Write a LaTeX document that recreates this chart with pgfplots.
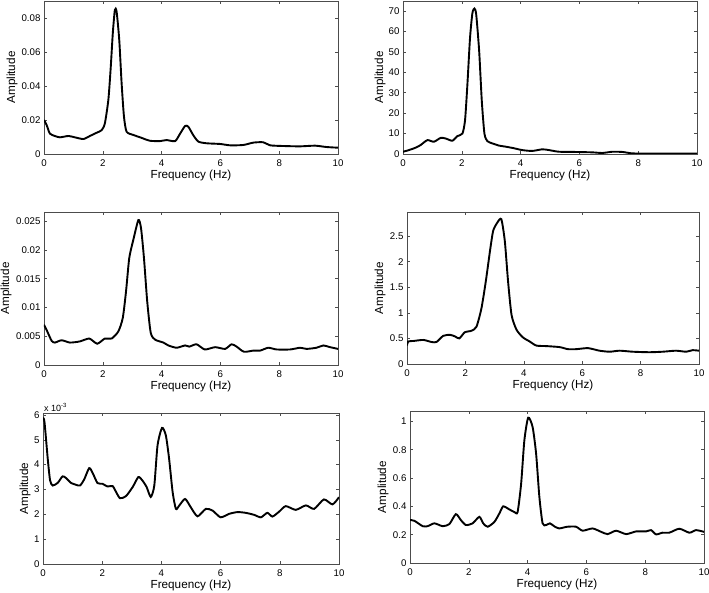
\documentclass[border=0pt]{standalone}
\usepackage{fontspec}
\setmainfont{Liberation Sans}
\usepackage{pgfplots}
\pgfplotsset{compat=1.18}

\pgfplotsset{
  spec/.style={
    scale only axis, width=294pt, height=153pt, anchor=north west,
    xmin=0, xmax=10, xtick={0,2,...,10}, ymin=0,
    tick align=inside, major tick length=3pt,
    axis line style={black!70, line width=0.6pt},
    every tick/.style={black!70, line width=0.6pt},
    tick label style={font=\fontsize{9.7}{10}\selectfont},
    label style={font=\fontsize{11.7}{12}\selectfont},
    /pgf/number format/assume math mode=true,
    xticklabel style={yshift=-2pt},
    xlabel={Frequency (Hz)}, ylabel={Amplitude},
    xlabel style={at={(axis description cs:0.5,0)}, anchor=center, yshift=-21pt},
    scaled y ticks=false,
    clip mode=individual,
  },
  % ylabel is rotated by 90, so its yshift moves it to the left
  ylab/.style={ylabel style={at={(axis description cs:0,0.5)}, anchor=center, yshift=#1}},
  curve/.style={black, line width=1.9pt, smooth, tension=0.4},
}

\begin{document}
\begin{tikzpicture}
\useasboundingbox (0,0) rectangle (709pt,592pt);

% top left
\begin{axis}[spec, at={(44pt,591pt)}, ymax=0.09,
    ytick={0,0.02,0.04,0.06,0.08}, yticklabels={0,0.02,0.04,0.06,0.08},
    ylab=32pt]
\addplot[curve] coordinates {
(0,0.020)(0.09,0.017)(0.2,0.012)(0.37,0.0106)(0.54,0.0098)(0.83,0.0106)
(1.05,0.0098)(1.34,0.0088)(1.56,0.0106)(1.79,0.0125)(1.96,0.014)(2.07,0.018)
(2.19,0.032)(2.27,0.051)(2.34,0.071)(2.41,0.0847)(2.47,0.0837)(2.56,0.067)
(2.64,0.0416)(2.72,0.022)(2.81,0.0131)(3.04,0.0112)(3.27,0.0098)(3.6,0.0078)
(3.95,0.0076)(4.17,0.0082)(4.46,0.0076)(4.63,0.012)(4.8,0.0165)(4.91,0.016)
(5.08,0.011)(5.25,0.0073)(5.53,0.0063)(5.99,0.0059)(6.33,0.0051)(6.78,0.0053)
(7.12,0.0067)(7.46,0.0069)(7.69,0.0051)(8.14,0.0047)(8.71,0.0045)(9.22,0.0049)
(9.61,0.0041)(10,0.0037)
};
\end{axis}

% top right
\begin{axis}[spec, at={(403pt,591pt)}, ymax=75,
    ytick={0,10,...,70}, ylab=23pt]
\addplot[curve] coordinates {
(0,1.1)(0.2,1.9)(0.43,3.1)(0.6,4.4)(0.83,6.8)(1.05,6.0)(1.28,7.9)(1.45,7.6)
(1.68,6.5)(1.85,8.8)(2.02,10.0)(2.11,16.5)(2.19,34)(2.28,57)(2.36,69)(2.43,71.3)
(2.49,68.4)(2.59,50.6)(2.68,26)(2.77,10)(2.87,6.3)(3.04,5.2)(3.27,4.1)(3.49,3.6)
(3.78,2.8)(4.06,1.9)(4.4,1.5)(4.74,2.3)(4.97,1.9)(5.31,1.1)(5.87,1.0)(6.44,0.8)
(6.78,0.5)(7.12,1.1)(7.46,1.0)(7.8,0.3)(8.37,0.2)(8.93,0.2)(10,0.2)
};
\end{axis}

% middle left
\begin{axis}[spec, at={(44pt,380pt)}, ymax=0.0266,
    ytick={0,0.005,0.01,0.015,0.02,0.025}, yticklabels={0,0.005,0.01,0.015,0.02,0.025},
    ylab=38pt]
\addplot[curve] coordinates {
(0,0.0070)(0.11,0.00585)(0.26,0.0042)(0.37,0.0039)(0.6,0.0043)(0.88,0.0039)
(1.22,0.0041)(1.54,0.0046)(1.81,0.0037)(2.07,0.0046)(2.3,0.0046)(2.53,0.00585)
(2.68,0.0082)(2.79,0.0128)(2.9,0.0186)(3.04,0.0218)(3.21,0.0252)(3.3,0.0238)
(3.4,0.0186)(3.51,0.0111)(3.63,0.0056)(3.78,0.0044)(4.06,0.0039)(4.23,0.0034)
(4.51,0.0030)(4.8,0.0034)(4.94,0.0032)(5.19,0.0036)(5.47,0.0027)(5.82,0.0031)
(6.16,0.0028)(6.38,0.0036)(6.55,0.0032)(6.8,0.0023)(7.12,0.0025)(7.35,0.0025)
(7.63,0.0030)(7.91,0.0027)(8.37,0.0027)(8.71,0.0030)(8.93,0.0028)(9.27,0.0030)
(9.5,0.0034)(9.73,0.0031)(10,0.0028)
};
\end{axis}

% middle right
\begin{axis}[spec, at={(407pt,380pt)}, width=292pt, height=152pt, ymax=2.97,
    ytick={0,0.5,...,2.5}, yticklabels={0,0.5,1,1.5,2,2.5},
    ylab=27pt]
\addplot[curve] coordinates {
(0,0.36)(0.04,0.44)(0.22,0.45)(0.56,0.47)(0.84,0.43)(1.01,0.43)(1.24,0.55)
(1.47,0.57)(1.64,0.54)(1.79,0.50)(1.98,0.62)(2.21,0.65)(2.38,0.73)(2.55,1.09)
(2.7,1.62)(2.84,2.2)(2.95,2.6)(3.09,2.76)(3.23,2.83)(3.35,2.4)(3.46,1.62)
(3.58,0.96)(3.75,0.67)(3.97,0.52)(4.2,0.44)(4.43,0.36)(4.77,0.35)(5.23,0.33)
(5.51,0.29)(5.8,0.29)(6.2,0.31)(6.59,0.26)(6.94,0.24)(7.28,0.26)(7.73,0.24)
(8.3,0.23)(8.76,0.24)(9.21,0.26)(9.56,0.24)(9.78,0.27)(10,0.26)
};
\end{axis}

% bottom left
\begin{axis}[spec, at={(43pt,179pt)}, width=296pt, height=151pt, ymax=0.00608,
    ytick={0,0.001,0.002,0.003,0.004,0.005,0.006}, yticklabels={0,1,2,3,4,5,6},
    ylab=18pt]
\addplot[curve] coordinates {
(0,0.00588)(0.05,0.00572)(0.16,0.00424)(0.24,0.00336)(0.33,0.00316)(0.5,0.00327)
(0.66,0.00353)(0.78,0.00346)(0.94,0.00327)(1.11,0.00319)(1.25,0.00316)(1.39,0.00340)
(1.56,0.00386)(1.68,0.00366)(1.84,0.00326)(2.01,0.00323)(2.18,0.00312)(2.35,0.00314)
(2.46,0.00292)(2.6,0.00265)(2.8,0.00273)(3.03,0.00310)(3.22,0.00350)(3.36,0.00336)
(3.5,0.00310)(3.64,0.00270)(3.76,0.00316)(3.87,0.00478)(4.02,0.00548)(4.15,0.00518)
(4.26,0.00424)(4.38,0.00289)(4.49,0.00222)(4.6,0.00235)(4.8,0.00262)(4.99,0.00229)
(5.22,0.00192)(5.5,0.00222)(5.73,0.00215)(6.0,0.00188)(6.29,0.00202)(6.57,0.00209)
(6.85,0.00206)(7.13,0.00198)(7.36,0.00188)(7.58,0.00206)(7.75,0.00191)(7.98,0.00211)
(8.2,0.00233)(8.54,0.00218)(8.88,0.00236)(9.16,0.00222)(9.49,0.00260)(9.78,0.00240)
(10,0.00269)
};
\node[anchor=south west, inner sep=1pt, font=\fontsize{9}{10}\selectfont]
  at (axis description cs:0,1) {x 10\textsuperscript{-3}};
\end{axis}

% bottom right
\begin{axis}[spec, at={(410pt,181pt)}, height=152pt, ymax=1.073,
    ytick={0,0.2,...,1}, yticklabels={0,0.2,0.4,0.6,0.8,1},
    ylab=27pt]
\addplot[curve] coordinates {
(0,0.303)(0.15,0.298)(0.43,0.26)(0.6,0.26)(0.83,0.28)(1.11,0.26)(1.34,0.275)
(1.56,0.345)(1.73,0.303)(1.9,0.268)(2.13,0.28)(2.36,0.326)(2.49,0.28)(2.64,0.256)
(2.87,0.29)(3.04,0.35)(3.17,0.40)(3.38,0.378)(3.55,0.36)(3.66,0.36)(3.78,0.56)
(3.89,0.866)(4.02,1.026)(4.17,0.96)(4.29,0.77)(4.4,0.467)(4.51,0.28)(4.63,0.268)
(4.76,0.28)(4.9,0.26)(5.07,0.244)(5.35,0.256)(5.65,0.256)(5.87,0.228)(6.21,0.244)
(6.5,0.22)(6.72,0.204)(7.01,0.228)(7.35,0.204)(7.69,0.223)(8.03,0.223)(8.2,0.232)
(8.37,0.202)(8.59,0.214)(8.82,0.214)(9.16,0.242)(9.5,0.214)(9.73,0.232)(10,0.22)
};
\end{axis}
\end{tikzpicture}
\end{document}
